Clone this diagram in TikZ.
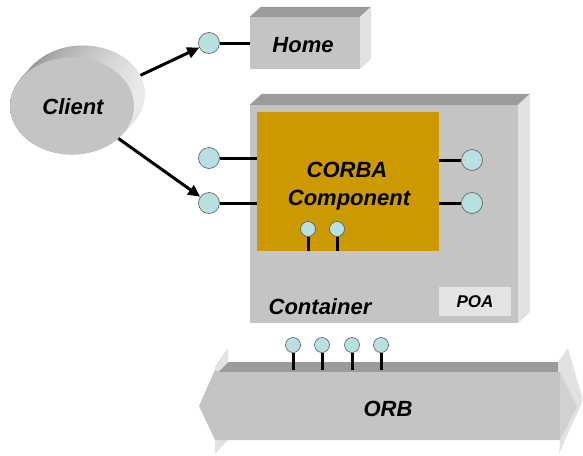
\documentclass[tikz,border=0pt]{standalone}
\usepackage{fontspec}
\setmainfont{Liberation Sans}
\usetikzlibrary{shapes.geometric,arrows.meta}
\definecolor{face}{RGB}{196,196,196}
\definecolor{topf}{RGB}{155,155,155}
\definecolor{sidef}{RGB}{226,226,226}
\definecolor{gold}{RGB}{204,153,0}
\definecolor{portc}{RGB}{184,224,226}
\definecolor{poac}{RGB}{228,228,228}
\begin{document}
\begin{tikzpicture}[x=1pt,y=-1pt,
  txt/.style={font=\fontsize{22}{26}\selectfont\bfseries\itshape, inner sep=0pt, anchor=base},
  port/.style={circle, draw=black!65, line width=0.6pt, fill=portc, minimum size=21pt, inner sep=0pt},
  pin/.style={port, minimum size=15pt},
  wire/.style={line width=3pt},
  call/.style={line width=3pt, -{Triangle[length=12pt,width=11pt]}},
  facebox/.style={fill=face, inner sep=0pt}]
\useasboundingbox (0,0) rectangle (583,455);

% ---- Client (extruded disc)
\foreach \t in {0,0.025,...,1.001}
  \shade[left color=black!45, right color=black!8]
    ({83-11*\t},{94+12*\t}) ellipse [x radius=62, y radius=48.5];
\node[ellipse, minimum width=124pt, minimum height=97pt, inner sep=0pt] (clientback) at (83,94) {};
\node[ellipse, fill=face, minimum width=124pt, minimum height=97pt, inner sep=0pt] (client) at (72,106) {};
\node[txt] (clienttxt) at (73,114) {Client};

% ---- Home
\node[facebox, minimum width=110pt, minimum height=52pt] (home) at (305,43) {};
\fill[topf] (home.north west) -- ++(11,-10) -- ++(110,0) -- (home.north east) -- cycle;
\fill[sidef] (home.north east) -- ++(11,-10) -- ++(0,52) -- (home.south east) -- cycle;
\node[txt] (hometxt) at (303,52) {Home};

% ---- Container
\node[facebox, minimum width=268pt, minimum height=218pt] (cont) at (384,214) {};
\fill[topf] (cont.north west) -- ++(12,-11) -- ++(268,0) -- (cont.north east) -- cycle;
\fill[sidef] (cont.north east) -- ++(12,-11) -- ++(0,218) -- (cont.south east) -- cycle;
\node[txt] (conttxt) at (320,314) {Container};
\node[fill=poac, minimum width=72pt, minimum height=29pt, inner sep=0pt] (poa) at (475,301.5) {};
\node[txt, font=\fontsize{17}{20}\selectfont\bfseries\itshape] (poatxt) at (475,307) {POA};

% ---- Component
\node[fill=gold, minimum width=182pt, minimum height=139pt, inner sep=0pt] (comp) at (348,181.5) {};
\node[txt] (corba) at (347,177) {CORBA};
\node[txt] (compo) at (349,205) {Component};

% ---- ORB (extruded double arrow)
\fill[topf] (228,362) -- (558,362) -- (560,372) -- (218,372) -- cycle;
\fill[sidef] (215,366) -- (228,348) -- (228,362) -- (218,372) -- (215,372) -- cycle;
\fill[sidef] (215,440) -- (228,440) -- (215,454) -- cycle;
\fill[sidef] (558,362) -- (568,348) -- (583,400) -- (559,454) -- (560,440) -- cycle;
\fill[face] (199,406) -- (215,370) -- (219,372) -- (560,372) -- (560,440) -- (215,440) -- cycle;
\fill[black!18] (560,372) -- (577,406) -- (560,440) -- cycle;
\node[txt] (orb) at (388,416) {ORB};
\coordinate (orbtop) at (0,370);

% ---- ports and wires
\node[port] (ph) at (209,43) {};
\draw[wire] (ph) -- (home);
\node[port] (pl1) at (209,158) {};
\node[port] (pl2) at (209,203) {};
\draw[wire] (pl1) -- (pl1 -| comp.west);
\draw[wire] (pl2) -- (pl2 -| comp.west);
\node[port] (pr1) at (472,160) {};
\node[port] (pr2) at (472,203) {};
\draw[wire] (pr1 -| comp.east) -- (pr1);
\draw[wire] (pr2 -| comp.east) -- (pr2);
\node[pin] (pi1) at (308,229) {};
\node[pin] (pi2) at (337,229) {};
\draw[wire] (pi1) -- (pi1 |- comp.south);
\draw[wire] (pi2) -- (pi2 |- comp.south);
\foreach \n/\x in {po1/293,po2/322,po3/352,po4/381} {
  \node[pin] (\n) at (\x,345) {};
  \draw[wire] (\n) -- (\n |- orbtop);
}

% ---- calls from the client
\draw[call] (clientback.18) -- (ph);
\draw[call] (client.-35) -- (pl2);
\end{tikzpicture}
\end{document}
